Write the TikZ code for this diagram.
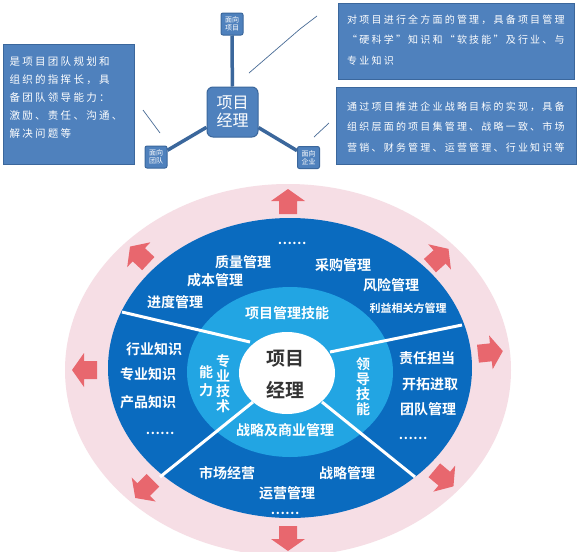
\documentclass[tikz,border=0pt]{standalone}
\usepackage{fontspec}
\setmainfont{Noto Sans CJK SC}[BoldFont={Noto Sans CJK SC Bold}]
\newfontfamily\boxfont{Noto Sans CJK SC}[LetterSpace=22]
\definecolor{boxblue}{HTML}{4F81BD}
\definecolor{boxedge}{HTML}{3B679C}
\definecolor{ringpink}{HTML}{F6DEE5}
\definecolor{arrowred}{HTML}{E8676E}
\definecolor{deepblue}{HTML}{0A6BBF}
\definecolor{skyblue}{HTML}{22A5E3}
\definecolor{coretext}{HTML}{333333}
\tikzset{
	infobox/.style={draw=boxedge,fill=boxblue,line width=1pt,inner sep=0pt},
	infotext/.style={text=white,align=left,inner sep=0pt,font=\boxfont\fontsize{10}{20.5}\selectfont},
	hub/.style={draw=boxedge,fill=boxblue,text=white,rounded corners=6pt,line width=1pt,minimum width=51,minimum height=50,inner sep=0pt,align=center,font=\fontsize{16}{18}\selectfont},
	facet/.style={draw=boxedge,fill=boxblue,text=white,rounded corners=2pt,line width=1pt,minimum size=22,inner sep=0pt,align=center,font=\fontsize{7}{8}\selectfont},
	spoke/.style={draw=boxedge,line width=3.5pt},
	hint/.style={draw=boxedge!80!gray,line width=0.7pt},
	ringtext/.style={text=white,inner sep=0pt,align=center,font=\bfseries\fontsize{14}{15}\selectfont},
	divider/.style={draw=white,line width=3pt},
	pusharrow/.style={fill=arrowred}
}
\begin{document}
\begin{tikzpicture}[x=1pt,y=-1pt]
	\useasboundingbox(0,0)rectangle(579,552);
	\fill[white](0,0)rectangle(579,552);
	\node[infobox,minimum width=131,minimum height=120](lead)at(68.5,104){};
	\node[infotext,font=\boxfont\fontsize{10.5}{18}\selectfont](leadtext)at(66,98){是项目团队规划和\\组织的指挥长，具\\备团队领导能力：\\激励、责任、沟通、\\解决问题等};
	\node[infobox,minimum width=236,minimum height=76](scope)at(456,41){};
	\node[infotext,anchor=west](scopetext)at(347,40){对项目进行全方面的管理，具备项目管理\\“硬科学”知识和“软技能”及行业、与\\专业知识};
	\node[infobox,minimum width=240,minimum height=77](firm)at(456,125.5){};
	\node[infotext,anchor=west](firmtext)at(347,127){通过项目推进企业战略目标的实现，具备\\组织层面的项目集管理、战略一致、市场\\营销、财务管理、运营管理、行业知识等};
	\node[hub](pm)at(232.5,112){项目\\经理};
	\node[facet](toproj)at(232,24){面向\\项目};
	\node[facet](toteam)at(156,157){面向\\团队};
	\node[facet](tofirm)at(308.5,157.5){面向\\企业};
	\draw[spoke](pm)--(toproj) (pm)--(toteam) (pm)--(tofirm);
	\coordinate(h1)at(249,73); \coordinate(h2)at(300,29); \coordinate(h3)at(317,16);
	\coordinate(h4)at(143,110); \coordinate(h5)at(160,133);
	\coordinate(h6)at(314,137); \coordinate(h7)at(329,123);
	\draw[hint](h1)--(h2)--(h3) (h4)--(h5) (h6)--(h7);
	\fill[ringpink](288,370)ellipse[x radius=223,y radius=186];
	\foreach \t in {6,42,90,137,180,225,270,320}
		\fill[pusharrow,shift={({288+203*cos(\t)},{370-168*sin(\t)})},rotate=\t](-12,-9)--(1,-9)--(1,-17)--(13,0)--(1,17)--(1,9)--(-12,9)--cycle;
	\fill[deepblue](290,368)ellipse[x radius=182,y radius=150];
	\fill[skyblue](290,372)ellipse[x radius=103,y radius=85];
	\draw[divider](122,312)--(250,342) (462,325)--(330,352) (160,477)--(253,402) (415,477)--(322,402);
	\fill[white](287,373)ellipse[x radius=48,y radius=41];
	\node[text=coretext,inner sep=0pt,align=center,font=\bfseries\fontsize{19}{32}\selectfont](core)at(285,374){项目\\经理};
	\foreach \x/\y/\s [count=\i] in {243/262/质量管理,215/280/成本管理,175/302/进度管理,343/265/采购管理,391/285/风险管理,287/313/项目管理技能,154/349/行业知识,148/374/专业知识,148/402/产品知识,427/358/责任担当,430/384/开拓进取,428/409/团队管理,285/430/战略及商业管理,227/473/市场经营,287/493/运营管理,347/473/战略管理}
		\node[ringtext](skill\i)at(\x,\y){\s};
	\node[ringtext,font=\bfseries\fontsize{11}{12}\selectfont](stake)at(408,308){利益相关方管理};
	\foreach \x/\y [count=\i] in {292/243,160/433,413/438,285/513}
		\node[ringtext,font=\bfseries\fontsize{13}{14}\selectfont](more\i)at(\x,\y){……};
	\node[ringtext](tech)at(223,384){专\\业\\技\\术};
	\node[ringtext,font=\bfseries\fontsize{14}{18}\selectfont](ability)at(206,381){能\\力};
	\node[ringtext](leading)at(363,387){领\\导\\技\\能};
\end{tikzpicture}
\end{document}
